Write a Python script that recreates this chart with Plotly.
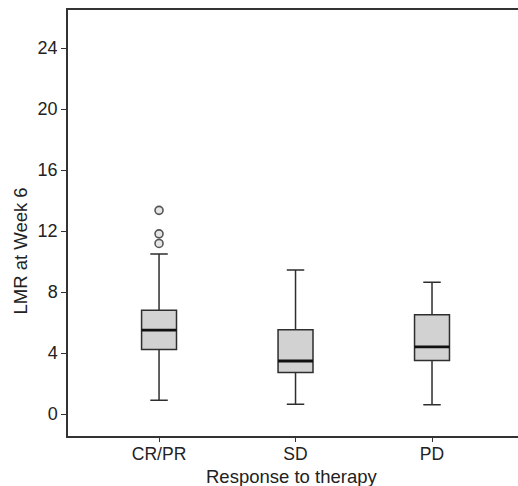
import plotly.graph_objects as go

categories = ["CR/PR", "SD", "PD"]
q1 = [4.24, 2.73, 3.52]
median = [5.51, 3.48, 4.41]
q3 = [6.80, 5.53, 6.51]
lower_whisker = [0.90, 0.64, 0.61]
upper_whisker = [10.49, 9.44, 8.64]
outliers_crpr = [11.19, 11.82, 13.36]
y_ticks = [0, 4, 8, 12, 16, 20, 24]

positions = list(range(len(categories)))
box_w = 0.256
FONT = "Liberation Sans, Arial, Helvetica, sans-serif"

fig = go.Figure()
fig.add_trace(go.Box(
    x=positions, q1=q1, median=median, q3=q3,
    lowerfence=lower_whisker, upperfence=upper_whisker,
    width=box_w, whiskerwidth=0.5,
    fillcolor="#d2d2d2", line=dict(color="#2e2e2e", width=1.5),
    boxpoints=False, showlegend=False, hoverinfo="skip",
))
for i, m in enumerate(median):
    fig.add_trace(go.Scatter(
        x=[positions[i] - box_w / 2, positions[i] + box_w / 2], y=[m, m],
        mode="lines", line=dict(color="#111111", width=2.8),
        showlegend=False, hoverinfo="skip",
    ))
fig.add_trace(go.Scatter(
    x=[positions[0]] * len(outliers_crpr), y=outliers_crpr, mode="markers",
    marker=dict(symbol="circle", size=8, color="#e6e6e6",
                line=dict(color="#555555", width=1.6)),
    showlegend=False, hoverinfo="skip",
))

fig.update_layout(
    width=518, height=486,
    margin=dict(l=68, r=0, t=10, b=50, autoexpand=False),
    plot_bgcolor="white", paper_bgcolor="white",
    font=dict(family=FONT, size=18, color="#222222"),
    xaxis=dict(
        range=[-0.667, 2.63], tickvals=positions, ticktext=categories,
        showline=True, linecolor="#333333", linewidth=1.5, mirror=True,
        ticks="outside", ticklen=4, tickcolor="#333333", tickwidth=1.2,
        ticklabelstandoff=-3,
        showgrid=False, zeroline=False, automargin=False,
        tickfont=dict(size=17.5),
    ),
    yaxis=dict(
        range=[-1.44, 26.5], tickvals=y_ticks,
        showline=True, linecolor="#333333", linewidth=1.5,
        ticks="outside", ticklen=5, tickcolor="#333333", tickwidth=1.2,
        showgrid=False, zeroline=False, automargin=False, tickfont=dict(size=18),
    ),
    annotations=[
        dict(
            text="LMR at Week 6", textangle=-90, xref="paper", yref="paper",
            x=(20 - 68) / 450, y=(436 - 251.5) / 426, xanchor="center", yanchor="middle",
            showarrow=False, font=dict(family=FONT, size=18.5, color="#222222"),
        ),
        dict(
            text="Response to therapy", xref="paper", yref="paper",
            x=(291.5 - 68) / 450, y=(436 - 476.5) / 426, xanchor="center", yanchor="middle",
            showarrow=False, font=dict(family=FONT, size=18.5, color="#222222"),
        ),
    ],
)

fig.write_html(
    "out.html",
    config={"displayModeBar": False},
    post_script="document.body.style.margin='0';document.body.style.overflow='hidden';",
)
